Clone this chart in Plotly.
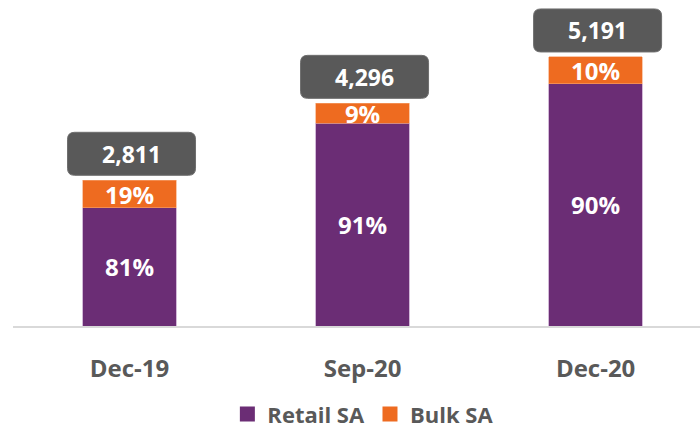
import plotly.graph_objects as go

# Savings account balances by period, split into retail and bulk shares
periods = ["Dec-19", "Sep-20", "Dec-20"]
totals = [2811, 4296, 5191]
retail_pct = [81, 91, 90]
bulk_pct = [19, 9, 10]
series_names = ["Retail SA", "Bulk SA"]

PURPLE = "#6B2D75"
ORANGE = "#EE6B20"
GREY_TEXT = "#595959"
FONT = "Open Sans"

retail_vals = [t * p / 100 for t, p in zip(totals, retail_pct)]
bulk_vals = [t * p / 100 for t, p in zip(totals, bulk_pct)]

fig = go.Figure()
fig.add_bar(
    x=periods, y=retail_vals, name=series_names[0], showlegend=False,
    marker=dict(color=PURPLE, line=dict(color="#B58BBE", width=0.6)),
    text=[f"{p}%" for p in retail_pct], textposition="inside",
    insidetextanchor="middle",
    textfont=dict(family=FONT, size=24, color="white", weight="bold"),
    width=0.4, hoverinfo="skip",
)
fig.add_bar(
    x=periods, y=bulk_vals, name=series_names[1], showlegend=False,
    marker=dict(color=ORANGE, line=dict(color="#F5A373", width=0.6)),
    text=[f"{p}%" for p in bulk_pct], textposition="inside",
    insidetextanchor="middle",
    textfont=dict(family=FONT, size=24, color="white", weight="bold"),
    width=0.4, hoverinfo="skip", constraintext="none",
)

# Legend entries with larger square swatches
for name, color in zip(series_names, [PURPLE, ORANGE]):
    fig.add_scatter(
        x=[None], y=[None], mode="markers", name=name,
        marker=dict(symbol="square", size=15, color=color),
    )

# Rounded total boxes above each stack, sized in pixels
w, h, r, gap, dx = 128, 43, 7, 5, 2
x0, x1 = -w / 2 + dx, w / 2 + dx
y0, y1 = gap, gap + h
box_path = (
    f"M {x0 + r},{y0} L {x1 - r},{y0} Q {x1},{y0} {x1},{y0 + r} "
    f"L {x1},{y1 - r} Q {x1},{y1} {x1 - r},{y1} "
    f"L {x0 + r},{y1} Q {x0},{y1} {x0},{y1 - r} "
    f"L {x0},{y0 + r} Q {x0},{y0} {x0 + r},{y0} Z"
)
for p, t in zip(periods, totals):
    fig.add_shape(
        type="path", path=box_path,
        xref="x", yref="y", xsizemode="pixel", ysizemode="pixel",
        xanchor=p, yanchor=t,
        fillcolor=GREY_TEXT, line=dict(color="#6E6E6E", width=1),
    )
    fig.add_annotation(
        x=p, y=t, text=f"{t:,}", showarrow=False,
        xshift=dx, yshift=gap + h / 2,
        font=dict(family=FONT, size=23, color="white", weight="bold"),
    )

fig.update_layout(
    barmode="stack",
    width=700, height=430,
    margin=dict(l=13, r=0, t=0, b=104, autoexpand=False),
    paper_bgcolor="white", plot_bgcolor="white",
    uniformtext=dict(minsize=24, mode="show"),
    showlegend=True,
    legend=dict(
        orientation="h", x=0.51, xanchor="center", y=-0.335, yanchor="bottom",
        font=dict(family=FONT, size=22, color=GREY_TEXT, weight="bold"),
        traceorder="normal", borderwidth=0,
    ),
    xaxis=dict(
        range=[-0.5, 2.448], showgrid=False, showline=True,
        linecolor="#D9D9D9", linewidth=2, ticks="",
        tickfont=dict(family=FONT, size=24, color=GREY_TEXT, weight="bold"),
        ticklabelstandoff=20,
    ),
    yaxis=dict(range=[0, 6290], visible=False, showgrid=False),
)

fig.write_html("out.html")
